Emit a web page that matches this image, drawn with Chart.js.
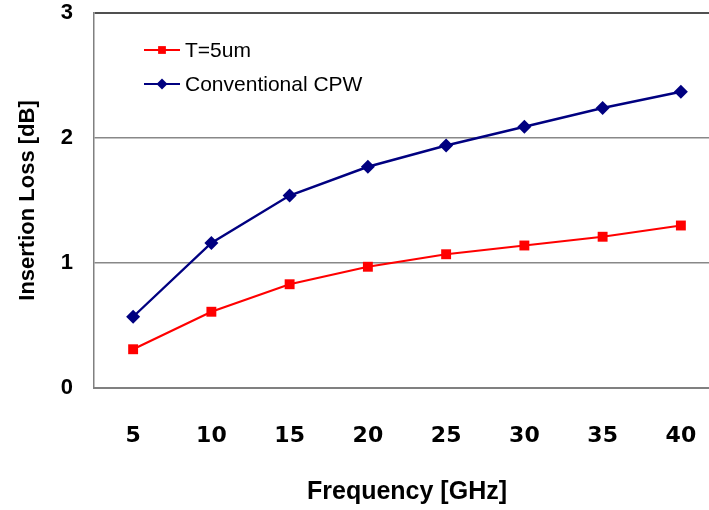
<!DOCTYPE html>
<html>
<head>
<meta charset="utf-8">
<script src="https://cdn.jsdelivr.net/npm/chart.js@4/dist/chart.umd.min.js"></script>
<style>
  html, body { margin: 0; padding: 0; background: #fff; overflow: hidden; }
  #wrap { width: 709px; height: 510px; overflow: hidden; }
</style>
</head>
<body>
<div id="wrap"><canvas id="chart" width="730" height="510"></canvas></div>
<script>
// frequency points (GHz)
var freqLabels = ["5", "10", "15", "20", "25", "30", "35", "40"]
// insertion loss in dB
var thinLoss = [0.31, 0.61, 0.83, 0.97, 1.07, 1.14, 1.21, 1.30]
var cpwLoss = [0.57, 1.16, 1.54, 1.77, 1.94, 2.09, 2.24, 2.37]
var seriesNames = ["T=5um", "Conventional CPW"]
var yTicks = [0, 1, 2, 3]

// legend drawn inside the plot, line + marker like the original
var insideLegend = {
    id: "insideLegend",
    afterDraw: function (chart) {
        var ctx = chart.ctx
        var area = chart.chartArea
        chart.data.datasets.forEach(function (ds, i) {
            var y = area.top + 37 + i * 34
            var x0 = area.left + 50
            ctx.save()
            ctx.strokeStyle = ds.borderColor
            ctx.lineWidth = 2
            ctx.beginPath()
            ctx.moveTo(x0, y)
            ctx.lineTo(x0 + 36, y)
            ctx.stroke()
            ctx.fillStyle = ds.backgroundColor
            Chart.helpers.drawPoint(ctx, { pointStyle: ds.pointStyle, radius: 5.5, rotation: 0, borderWidth: 0 }, x0 + 18, y)
            ctx.fillStyle = "#000"
            ctx.font = "21px 'Liberation Sans', Arial, sans-serif"
            ctx.textBaseline = "middle"
            ctx.textAlign = "left"
            ctx.fillText(ds.label, x0 + 41, y + 1)
            ctx.restore()
        })
    }
}

new Chart("chart", {
    type: "line",
    data: {
        labels: freqLabels,
        datasets: [{
            label: seriesNames[0],
            data: thinLoss,
            borderColor: "#FF0000",
            backgroundColor: "#FF0000",
            borderWidth: 2.2,
            pointStyle: "rect",
            pointRadius: 7,
            pointBorderWidth: 0
        }, {
            label: seriesNames[1],
            data: cpwLoss,
            borderColor: "#000080",
            backgroundColor: "#000080",
            borderWidth: 2.4,
            pointStyle: "rectRot",
            pointRadius: 7,
            pointBorderWidth: 0
        }]
    },
    options: {
        responsive: false,
        animation: false,
        layout: { padding: { top: 13, right: 10, left: 0, bottom: 0 } },
        plugins: {
            legend: { display: false },
            tooltip: { enabled: false }
        },
        scales: {
            x: {
                offset: true,
                afterFit: function (axis) {
                    // pin the plot bottom at the same place as the original
                    axis.height = 122
                    axis.paddingLeft = 0
                    axis.paddingRight = 0
                },
                grid: { color: "rgba(0,0,0,0)", drawTicks: false },
                border: { display: true, color: "#808080", width: 2 },
                ticks: {
                    color: "#000",
                    padding: 35,
                    font: { family: "'DejaVu Sans'", size: 22, weight: "bold" }
                },
                title: {
                    display: true,
                    text: "Frequency [GHz]",
                    color: "#000",
                    font: { family: "'Liberation Sans', Arial", size: 25, weight: "bold" },
                    padding: { top: 30, bottom: 3 }
                }
            },
            y: {
                min: 0,
                max: 3,
                afterBuildTicks: function (axis) {
                    axis.ticks = yTicks.map(function (v) { return { value: v } })
                },
                afterFit: function (axis) {
                    axis.width = 94
                    axis.paddingTop = 0
                    axis.paddingBottom = 0
                },
                grid: {
                    drawTicks: false,
                    color: function (c) {
                        if (c.tick.value == 0) return "rgba(0,0,0,0)"
                        if (c.tick.value == 3) return "#505050"
                        return "#888888"
                    },
                    lineWidth: function (c) { return c.tick.value == 3 ? 2 : 1.5 }
                },
                border: { display: true, color: "#808080", width: 1.5 },
                ticks: {
                    color: "#000",
                    padding: 21,
                    font: { family: "'Liberation Sans', Arial", size: 22, weight: "bold" }
                },
                title: {
                    display: true,
                    text: "Insertion Loss [dB]",
                    color: "#000",
                    font: { family: "'Liberation Sans', Arial", size: 22, weight: "bold" },
                    padding: { top: 15, bottom: 20 }
                }
            }
        }
    },
    plugins: [insideLegend]
})
</script>
</body>
</html>
